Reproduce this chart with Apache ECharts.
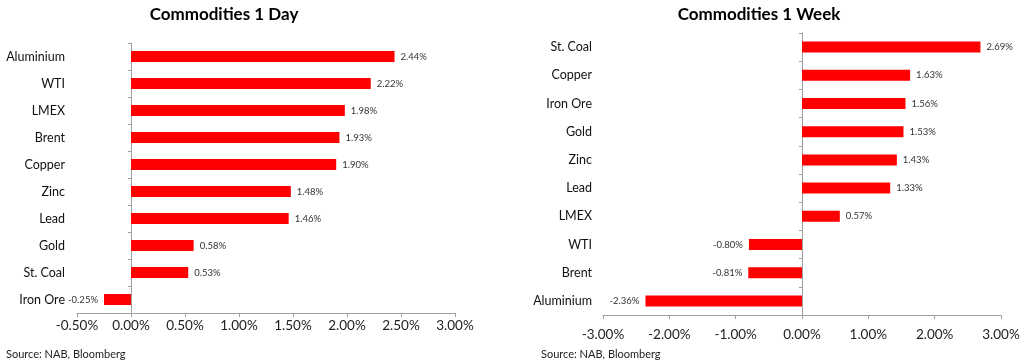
<!DOCTYPE html>
<html>
<head>
<meta charset="utf-8">
<script src="https://cdn.jsdelivr.net/npm/echarts@6/dist/echarts.min.js"></script>
<style>
html,body{margin:0;padding:0;background:#fff;}
#chart{width:1024px;height:362px;}
</style>
</head>
<body>
<div id="chart"></div>
<script>
const dayCategories = ['Aluminium','WTI','LMEX','Brent','Copper','Zinc','Lead','Gold','St. Coal','Iron Ore'];
const dayValues = [2.44, 2.22, 1.98, 1.93, 1.90, 1.48, 1.46, 0.58, 0.53, -0.25];
const weekCategories = ['St. Coal','Copper','Iron Ore','Gold','Zinc','Lead','LMEX','WTI','Brent','Aluminium'];
const weekValues = [2.69, 1.63, 1.56, 1.53, 1.43, 1.33, 0.57, -0.80, -0.81, -2.36];
const dayTicks = {min: -0.5, max: 3, interval: 0.5};
const weekTicks = {min: -3, max: 3, interval: 1};

const FONT = 'Lato';
const axisGrey = '#a0a0a0';

function valueAxis(gridIndex, t, margin) {
  return {
    type: 'value', gridIndex: gridIndex, min: t.min, max: t.max, interval: t.interval,
    axisLine: {show: true, lineStyle: {color: axisGrey, width: 1}},
    axisTick: {show: true, length: 4, lineStyle: {color: axisGrey}},
    splitLine: {show: false},
    axisLabel: {fontFamily: FONT, fontSize: 13.5, color: '#222', margin: margin,
      formatter: v => v.toFixed(2) + '%'}
  };
}
function labelAxis(gridIndex, cats, margin) {
  return {
    type: 'category', gridIndex: gridIndex, data: cats, inverse: true, position: 'left',
    axisLine: {show: false, onZero: false}, axisTick: {show: false},
    axisLabel: {fontFamily: FONT, fontSize: 12.5, color: '#111', margin: margin}
  };
}
function zeroAxis(gridIndex, cats) {
  return {
    type: 'category', gridIndex: gridIndex, data: cats, inverse: true, position: 'left',
    axisLine: {show: true, onZero: true, lineStyle: {color: axisGrey, width: 1}},
    axisTick: {show: true, length: 3, lineStyle: {color: axisGrey}},
    axisLabel: {show: false}
  };
}
function barData(vals) {
  return vals.map(v => ({
    value: v,
    label: {position: v < 0 ? 'left' : 'right'}
  }));
}
function barSeries(xi, yi, vals) {
  return {
    type: 'bar', xAxisIndex: xi, yAxisIndex: yi, data: barData(vals),
    barWidth: 11,
    itemStyle: {color: '#ff0000'},
    label: {show: true, distance: 6, fontFamily: FONT, fontSize: 9.5, color: '#333',
      formatter: p => p.value.toFixed(2) + '%'},
    animation: false
  };
}

const chart = echarts.init(document.getElementById('chart'), null, {renderer: 'canvas'});
chart.setOption({
  backgroundColor: '#fff',
  animation: false,
  title: [
    {text: 'Commodities 1 Day', left: 219, top: 1, textAlign: 'center',
      textStyle: {fontFamily: FONT, fontSize: 17, fontWeight: 'bold', color: '#000'}},
    {text: 'Commodities 1 Week', left: 754, top: 1, textAlign: 'center',
      textStyle: {fontFamily: FONT, fontSize: 17, fontWeight: 'bold', color: '#000'}},
    {text: 'Source: NAB, Bloomberg', left: 1, top: 344,
      textStyle: {fontFamily: FONT, fontSize: 11, fontWeight: 'normal', color: '#222'}},
    {text: 'Source: NAB, Bloomberg', left: 536, top: 344,
      textStyle: {fontFamily: FONT, fontSize: 11, fontWeight: 'normal', color: '#222'}}
  ],
  grid: [
    {left: 77, top: 43, width: 378, height: 270},
    {left: 603, top: 33, width: 398, height: 282}
  ],
  xAxis: [valueAxis(0, dayTicks, 6), valueAxis(1, weekTicks, 13)],
  yAxis: [
    labelAxis(0, dayCategories, 12),
    zeroAxis(0, dayCategories),
    labelAxis(1, weekCategories, 11),
    zeroAxis(1, weekCategories)
  ],
  series: [
    barSeries(0, 0, dayValues),
    barSeries(1, 2, weekValues)
  ]
});
</script>
</body>
</html>
